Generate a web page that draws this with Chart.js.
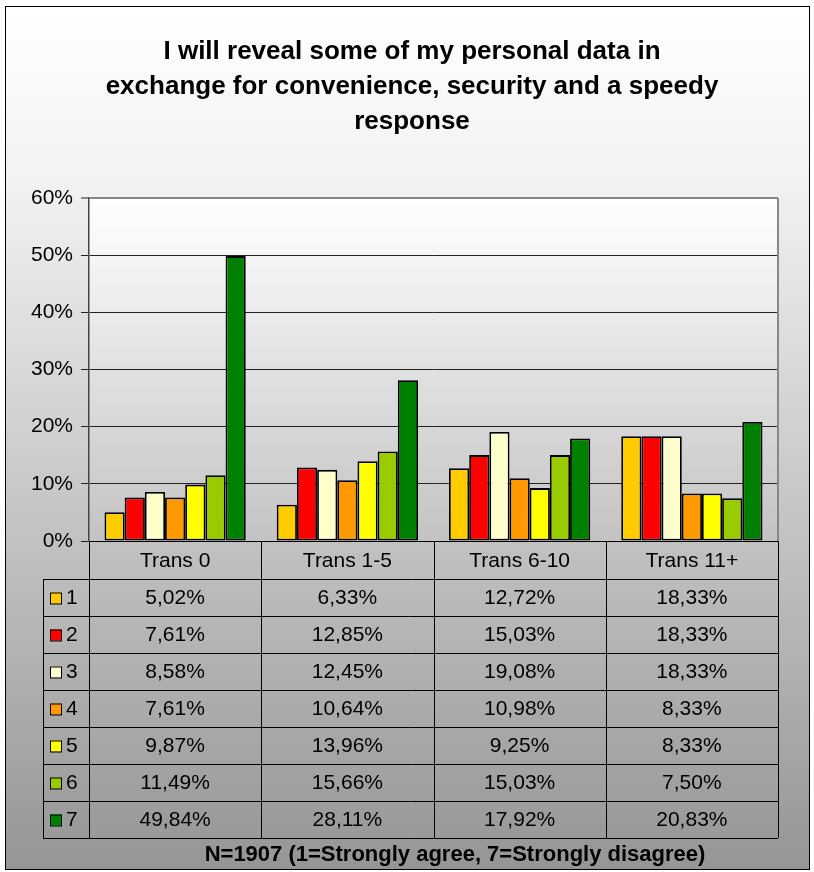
<!DOCTYPE html>
<html>
<head>
<meta charset="utf-8">
<script src="https://cdn.jsdelivr.net/npm/chart.js@4/dist/chart.umd.min.js"></script>
<style>
  html, body { margin: 0; padding: 0; background: #fff; }
  canvas { display: block; }
</style>
</head>
<body>
<canvas id="chart" width="814" height="872"></canvas>
<script>
const categories = ["Trans 0", "Trans 1-5", "Trans 6-10", "Trans 11+"];
const seriesNames = ["1", "2", "3", "4", "5", "6", "7"];
const s1 = [5.02, 6.33, 12.72, 18.33];
const s2 = [7.61, 12.85, 15.03, 18.33];
const s3 = [8.58, 12.45, 19.08, 18.33];
const s4 = [7.61, 10.64, 10.98, 8.33];
const s5 = [9.87, 13.96, 9.25, 8.33];
const s6 = [11.49, 15.66, 15.03, 7.50];
const s7 = [49.84, 28.11, 17.92, 20.83];
const seriesValues = [s1, s2, s3, s4, s5, s6, s7];
const seriesColors = ["#FFCC00", "#FF0000", "#FFFFCC", "#FF9900", "#FFFF00", "#99CC00", "#008000"];
const yTicks = [0, 10, 20, 30, 40, 50, 60];
const titleLines = ["I will reveal some of my personal data in",
                    "exchange for convenience, security and a speedy",
                    "response"];
const footNote = "N=1907 (1=Strongly agree, 7=Strongly disagree)";

const FONT = "Arial, 'Liberation Sans', sans-serif";
const fmt = v => v.toFixed(2).replace(".", ",") + "%";

// background, plot gradient, title, data table, frame
const decor = {
    id: "decor",
    beforeDraw(chart) {
        const {ctx, width, height, chartArea: a} = chart;
        ctx.save();
        ctx.fillStyle = "#fff";
        ctx.fillRect(0, 0, width, height);
        let g = ctx.createLinearGradient(0, 6, 0, 870);
        g.addColorStop(0, "#ffffff");
        g.addColorStop(0.2, "#f2f2f2");
        g.addColorStop(1, "#959595");
        ctx.fillStyle = g;
        ctx.fillRect(5, 6, 805, 864);
        g = ctx.createLinearGradient(0, a.top, 0, a.bottom);
        g.addColorStop(0, "#ffffff");
        g.addColorStop(1, "#c3c3c3");
        ctx.fillStyle = g;
        ctx.fillRect(a.left, a.top, a.right - a.left, a.bottom - a.top);
        ctx.restore();
    },
    afterDraw(chart) {
        const {ctx, chartArea: a} = chart;
        const x = chart.scales.x;
        const n = categories.length;
        const cw = (a.right - a.left) / n;
        const headH = 38, rowH = 37, tabLeft = 43;
        const rowsTop = a.bottom + headH;
        const tabBottom = rowsTop + rowH * seriesNames.length;
        ctx.save();
        // title
        ctx.fillStyle = "#000";
        ctx.font = "bold 26px " + FONT;
        ctx.textAlign = "center";
        ctx.textBaseline = "middle";
        titleLines.forEach((t, i) => ctx.fillText(t, 412, 52 + i * 35));

        // plot right border
        ctx.strokeStyle = "#888";
        ctx.lineWidth = 2;
        ctx.beginPath();
        ctx.moveTo(a.right, a.top);
        ctx.lineTo(a.right, a.bottom);
        ctx.stroke();

        ctx.strokeStyle = "#000";
        ctx.lineWidth = 1;
        ctx.beginPath();
        ctx.moveTo(a.left, a.bottom + 0.5);
        ctx.lineTo(a.right, a.bottom + 0.5);
        for (let i = 0; i <= seriesNames.length; i++) {
            const y = Math.round(rowsTop + i * rowH) + 0.5;
            ctx.moveTo(tabLeft, y);
            ctx.lineTo(a.right, y);
        }
        ctx.moveTo(tabLeft + 0.5, rowsTop);
        ctx.lineTo(tabLeft + 0.5, tabBottom);
        for (let i = 0; i <= n; i++) {
            const xx = Math.round(a.left + i * cw) + 0.5;
            ctx.moveTo(xx, a.bottom);
            ctx.lineTo(xx, tabBottom);
        }
        ctx.stroke();

        ctx.font = "21px " + FONT;
        categories.forEach((c, i) => {
            ctx.fillText(c, x.getPixelForValue(i), a.bottom + headH / 2 + 1);
        });
        seriesNames.forEach((name, r) => {
            const cy = rowsTop + r * rowH + rowH / 2 + 1;
            ctx.fillStyle = seriesColors[r];
            ctx.fillRect(50, cy - 6, 11, 11);
            ctx.strokeStyle = "#000";
            ctx.lineWidth = 1;
            ctx.strokeRect(50.5, cy - 5.5, 11, 11);
            ctx.fillStyle = "#000";
            ctx.textAlign = "left";
            ctx.fillText(name, 66, cy);
            ctx.textAlign = "center";
            seriesValues[r].forEach((v, i) => {
                ctx.fillText(fmt(v), x.getPixelForValue(i), cy);
            });
        });
        ctx.font = "bold 22px " + FONT;
        ctx.fillText(footNote, 455, tabBottom + 17);

        ctx.strokeStyle = "#000";
        ctx.lineWidth = 1;
        ctx.strokeRect(5.5, 6.5, 804, 863);
        ctx.restore();
    }
};

new Chart(document.getElementById("chart"), {
    type: "bar",
    data: {
        labels: categories,
        datasets: seriesNames.map((name, i) => ({
            label: name,
            data: seriesValues[i],
            backgroundColor: seriesColors[i],
            borderColor: "#000",
            borderWidth: 1.8,
            borderSkipped: false,
            categoryPercentage: 0.82,
            barPercentage: 1
        }))
    },
    options: {
        responsive: false,
        animation: false,
        layout: {padding: {left: 10, right: 36, top: 198, bottom: 331}},
        plugins: {
            legend: {display: false},
            tooltip: {enabled: false},
            title: {display: false}
        },
        scales: {
            x: {display: false},
            y: {
                min: 0,
                max: 60,
                afterFit: s => { s.width = 79; },
                afterBuildTicks: s => { s.ticks = yTicks.map(v => ({value: v})); },
                ticks: {
                    color: "#000",
                    font: {family: FONT, size: 21},
                    padding: 8,
                    callback: v => v + "%"
                },
                grid: {
                    color: c => c.tick && c.tick.value === 60 ? "#888" : "#222",
                    lineWidth: c => c.tick && c.tick.value === 60 ? 2 : 1,
                    tickLength: 8
                },
                border: {color: "#444", width: 1.5}
            }
        }
    },
    plugins: [decor]
});
</script>
</body>
</html>
